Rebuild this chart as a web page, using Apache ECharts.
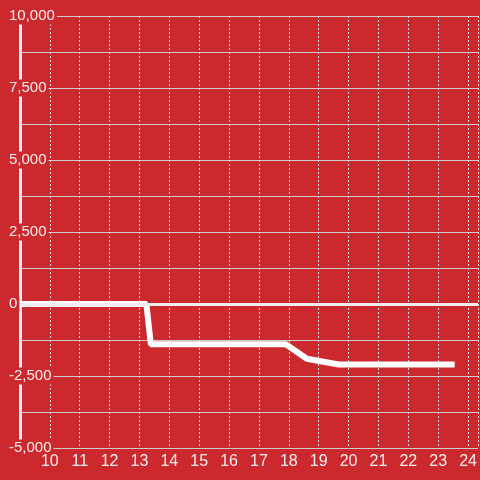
<!DOCTYPE html>
<html>
<head>
<meta charset="utf-8">
<script src="https://cdn.jsdelivr.net/npm/echarts@6/dist/echarts.min.js"></script>
<style>
  html, body { margin: 0; padding: 0; background: #cc292e; }
  #chart { width: 480px; height: 480px; }
</style>
</head>
<body>
<div id="chart"></div>
<script>
// x in hours, y in value
const xValues = [9, 13.23, 13.38, 17.9, 18.6, 19.67, 23.55]
const yValues = [0, 0, -1400, -1400, -1900, -2100, -2100]
const yTicks = [-5000, -2500, 0, 2500, 5000, 7500, 10000]

const seriesData = xValues.map((x, i) => [x, yValues[i]])
const bg = '#cc292e'

const chart = echarts.init(document.getElementById('chart'))
chart.setOption({
  backgroundColor: bg,
  animation: false,
  grid: {
    left: 20,
    right: 0,
    top: 16,
    bottom: 32,
  },
  xAxis: {
    type: 'value',
    min: 9,
    max: 24.333,
    interval: 1,
    axisLine: { show: false },
    axisTick: { show: false },
    minorTick: { show: false },
    minorSplitLine: { show: false },
    axisLabel: {
      color: '#eeeeee',
      fontSize: 16,
      fontFamily: 'Liberation Sans',
      margin: 6,
      showMinLabel: false,
      showMaxLabel: false,
    },
    splitLine: {
      show: true,
      lineStyle: { color: '#dddddd', width: 1, type: [2, 2] },
    },
  },
  yAxis: {
    type: 'value',
    min: -5000,
    max: 10000,
    interval: 1250,
    axisLine: {
      show: true,
      lineStyle: { color: '#eeeeee', width: 3 },
    },
    axisTick: { show: false },
    axisLabel: {
      color: '#eeeeee',
      fontSize: 15,
      fontFamily: 'Liberation Sans',
      align: 'left',
      margin: 11,
      backgroundColor: bg,
      padding: [2, 2, 0, 0],
      formatter: v => (yTicks.includes(v) ? v.toLocaleString('en-US') : ''),
    },
    splitLine: {
      lineStyle: { color: '#cccccc', width: 1 },
    },
  },
  series: [
    {
      type: 'line',
      data: seriesData,
      symbol: 'none',
      lineStyle: { color: '#ffffff', width: 6 },
      markLine: {
        silent: true,
        symbol: 'none',
        label: { show: false },
        lineStyle: { color: '#eeeeee', width: 3, type: 'solid' },
        data: [{ yAxis: 0 }],
      },
    },
  ],
})
</script>
</body>
</html>
